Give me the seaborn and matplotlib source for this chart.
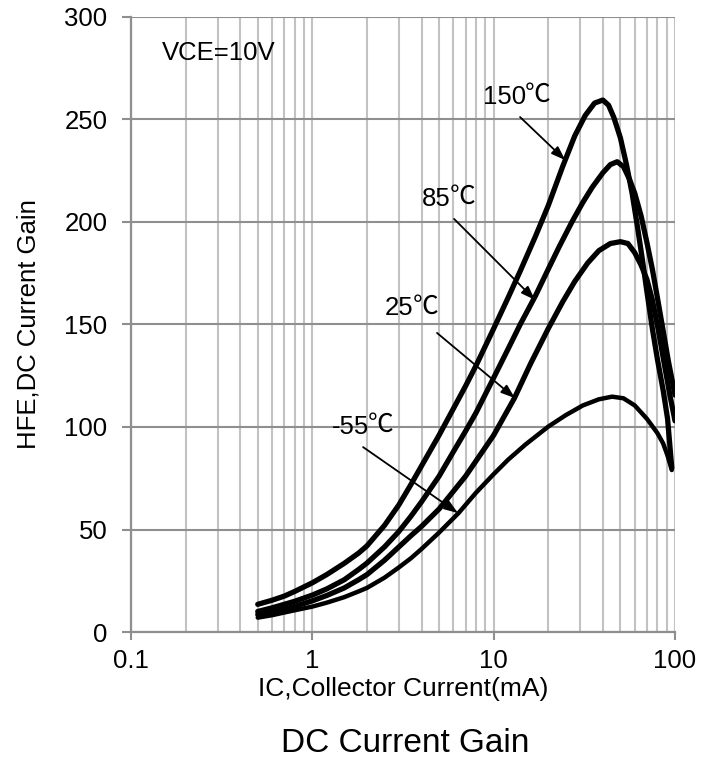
import numpy as np
import pandas as pd
import matplotlib
matplotlib.use("Agg")
import matplotlib.pyplot as plt
import matplotlib.ticker as mticker
import seaborn as sns

# ---------------- data ----------------
ic_150 = [0.5, 0.6, 0.7, 0.8, 1.0, 1.2, 1.5, 1.8, 2.0, 2.5, 3, 3.5, 4, 5, 6, 7, 8, 10,
          12, 14, 17, 20, 24, 28, 32, 36, 40, 43, 46, 50, 54, 58, 62, 66, 70, 75,
          80, 86, 91, 96]
hfe_150 = [13.5, 15.5, 17.5, 19.8, 24, 28, 33.5, 38.5, 42, 52, 62, 72, 81, 96, 109,
           120, 130, 148, 163, 176, 193, 208, 227, 242, 252, 258, 259.5, 257, 251,
           241, 228, 214, 198, 182, 166, 148, 133, 118, 104, 80]

ic_85 = [0.5, 0.6, 0.7, 0.8, 1, 1.2, 1.5, 1.8, 2, 2.5, 3, 3.5, 4, 5, 6, 7, 8, 10, 12,
         14, 17, 20, 23, 27, 31, 35, 40, 44, 48, 52, 56, 60, 65, 70, 75, 80, 86, 92,
         100]
hfe_85 = [10, 11.8, 13.5, 15, 18, 21, 25.5, 30.5, 33.6, 41.5, 49, 56.5, 63.5, 76, 88,
          98, 107, 124, 138, 150, 164, 177, 188, 200, 209.5, 217, 224, 228, 229.4,
          227, 221, 214, 203, 190, 177, 163, 147, 132, 115.6]

ic_25 = [0.5, 0.6, 0.7, 0.8, 1, 1.2, 1.5, 1.8, 2, 2.5, 3, 3.5, 4, 5, 7, 10, 13, 16,
         20, 24, 28, 33, 38, 44, 50, 55, 60, 65, 70, 75, 81, 88, 94, 100]
hfe_25 = [8.5, 9.8, 11.2, 12.5, 15.2, 17.8, 21.5, 25.5, 28, 35, 41.5, 47, 51.5, 60,
          76, 96, 114, 131, 148, 161, 171, 180, 186, 189.5, 190.4, 189.5, 185, 179,
          172, 162, 147, 129, 115, 103]

ic_m55 = [0.5, 0.6, 0.7, 0.8, 1, 1.2, 1.5, 1.8, 2, 2.5, 3, 3.5, 4, 5, 6.4, 8, 10, 12,
          15, 20, 25, 31, 38, 45, 52, 60, 70, 80, 86, 91, 96]
hfe_m55 = [7, 8.2, 9.5, 10.6, 12.4, 14.3, 17, 19.8, 21.5, 26.5, 31.5, 36, 40.5, 48.5,
           58, 68, 77, 84, 91.5, 100.2, 105.8, 110.5, 113.5, 114.8, 114, 110.5, 104,
           97, 92, 86, 79]

series_names = ["150", "85", "25", "-55"]
unit = "℃"
x_ticks = [0.1, 1, 10, 100]
x_tick_labels = ["0.1", "1", "10", "100"]
y_ticks = [0, 50, 100, 150, 200, 250, 300]

# label positions (text anchor, arrow tail, arrow head) in data coords
label_pos = {"150": (8.74, 257.6), "85": (4.03, 207.8),
             "25": (2.52, 154.6), "-55": (1.284, 96.6)}
arrow_tail = {"150": (13.98, 251.2), "85": (6.05, 201.5),
              "25": (4.87, 145.9), "-55": (1.905, 90.2)}
arrow_head = {"150": (24.8, 230.2), "85": (16.9, 162.0),
              "25": (13.1, 114.1), "-55": (6.36, 58.0)}

# ---------------- build table ----------------
frames = []
for name, xs, ys in zip(series_names, [ic_150, ic_85, ic_25, ic_m55],
                        [hfe_150, hfe_85, hfe_25, hfe_m55]):
    frames.append(pd.DataFrame({"ic": xs, "hfe": ys, "temp": name}))
df = pd.concat(frames, ignore_index=True)

# ---------------- style ----------------
sns.set_theme(style="white")
FONT = ["Liberation Sans", "Noto Sans CJK SC", "DejaVu Sans"]
plt.rcParams["font.family"] = FONT

fig = plt.figure(figsize=(7.16, 7.58), dpi=100)
ax = fig.add_axes([131 / 716, 1 - 632 / 758, (675 - 131) / 716, (632 - 17) / 758])

ax.set_xscale("log")
ax.set_xlim(0.1, 100)
ax.set_ylim(0, 300)

ax.xaxis.set_major_locator(mticker.FixedLocator(x_ticks))
ax.xaxis.set_minor_locator(mticker.LogLocator(base=10, subs=np.arange(2, 10)))
ax.xaxis.set_major_formatter(mticker.FixedFormatter(x_tick_labels))
ax.xaxis.set_minor_formatter(mticker.NullFormatter())
ax.set_yticks(y_ticks)
ax.grid(False)
ax.grid(True, which="both", axis="x", color="#c2c2c2", lw=1.5)
ax.grid(True, which="major", axis="y", color="#8f8f8f", lw=1.5)
ax.set_axisbelow(True)

for s in ["top", "right"]:
    ax.spines[s].set_visible(False)
for s in ["left", "bottom"]:
    ax.spines[s].set_color("#8f8f8f")
    ax.spines[s].set_linewidth(1.6)

ax.tick_params(axis="y", which="major", direction="out", length=6.5, width=1.5,
               color="#8f8f8f", pad=10.5, labelsize=18.5, left=True)
ax.tick_params(axis="x", which="major", direction="out", length=6, width=1.5,
               color="#8f8f8f", pad=6.5, labelsize=18.5, bottom=True)
ax.tick_params(axis="x", which="minor", length=0)
for lab in ax.get_xticklabels() + ax.get_yticklabels():
    lab.set_color("black")

# curves
widths = {"150": 3.8, "85": 3.8, "25": 3.8, "-55": 3.2}
for name in series_names:
    sub = df[df["temp"] == name]
    sns.lineplot(data=sub, x="ic", y="hfe", sort=False, estimator=None,
                 color="black", lw=widths[name], ax=ax, legend=False)
for ln in ax.get_lines():
    ln.set_solid_joinstyle("round")
    ln.set_solid_capstyle("round")

ax.set_xlabel("IC,Collector Current(mA)", fontsize=19, color="black")
ax.set_ylabel("HFE,DC Current Gain", fontsize=18.5, color="black")
ax.xaxis.set_label_coords(0.5, -0.073)
ax.yaxis.set_label_coords(-0.167, 0.5)

# annotations
ax.text(0.148, 279, "VCE=10V", fontsize=18.5, va="baseline", ha="left",
        color="black")
for name in series_names:
    lx, ly = label_pos[name]
    t = ax.text(lx, ly, name, fontsize=18.5, family="Liberation Sans",
                va="baseline", ha="left", color="black")
    ax.annotate(unit, xy=(1.0, 0.0), xycoords=t, fontsize=18.5,
                family="Noto Sans CJK SC", ha="left", va="bottom", color="black",
                xytext=(-1, 0.5), textcoords="offset points")
    ax.annotate("", xy=arrow_head[name], xytext=arrow_tail[name],
                arrowprops=dict(arrowstyle="-|>,head_length=0.7,head_width=0.25",
                                color="black", lw=1.3, shrinkA=0, shrinkB=0))

fig.text(405 / 716, 1 - 752 / 758, "DC Current Gain", fontsize=24,
         ha="center", va="baseline", color="black")

fig.savefig("out.png", dpi=100)
